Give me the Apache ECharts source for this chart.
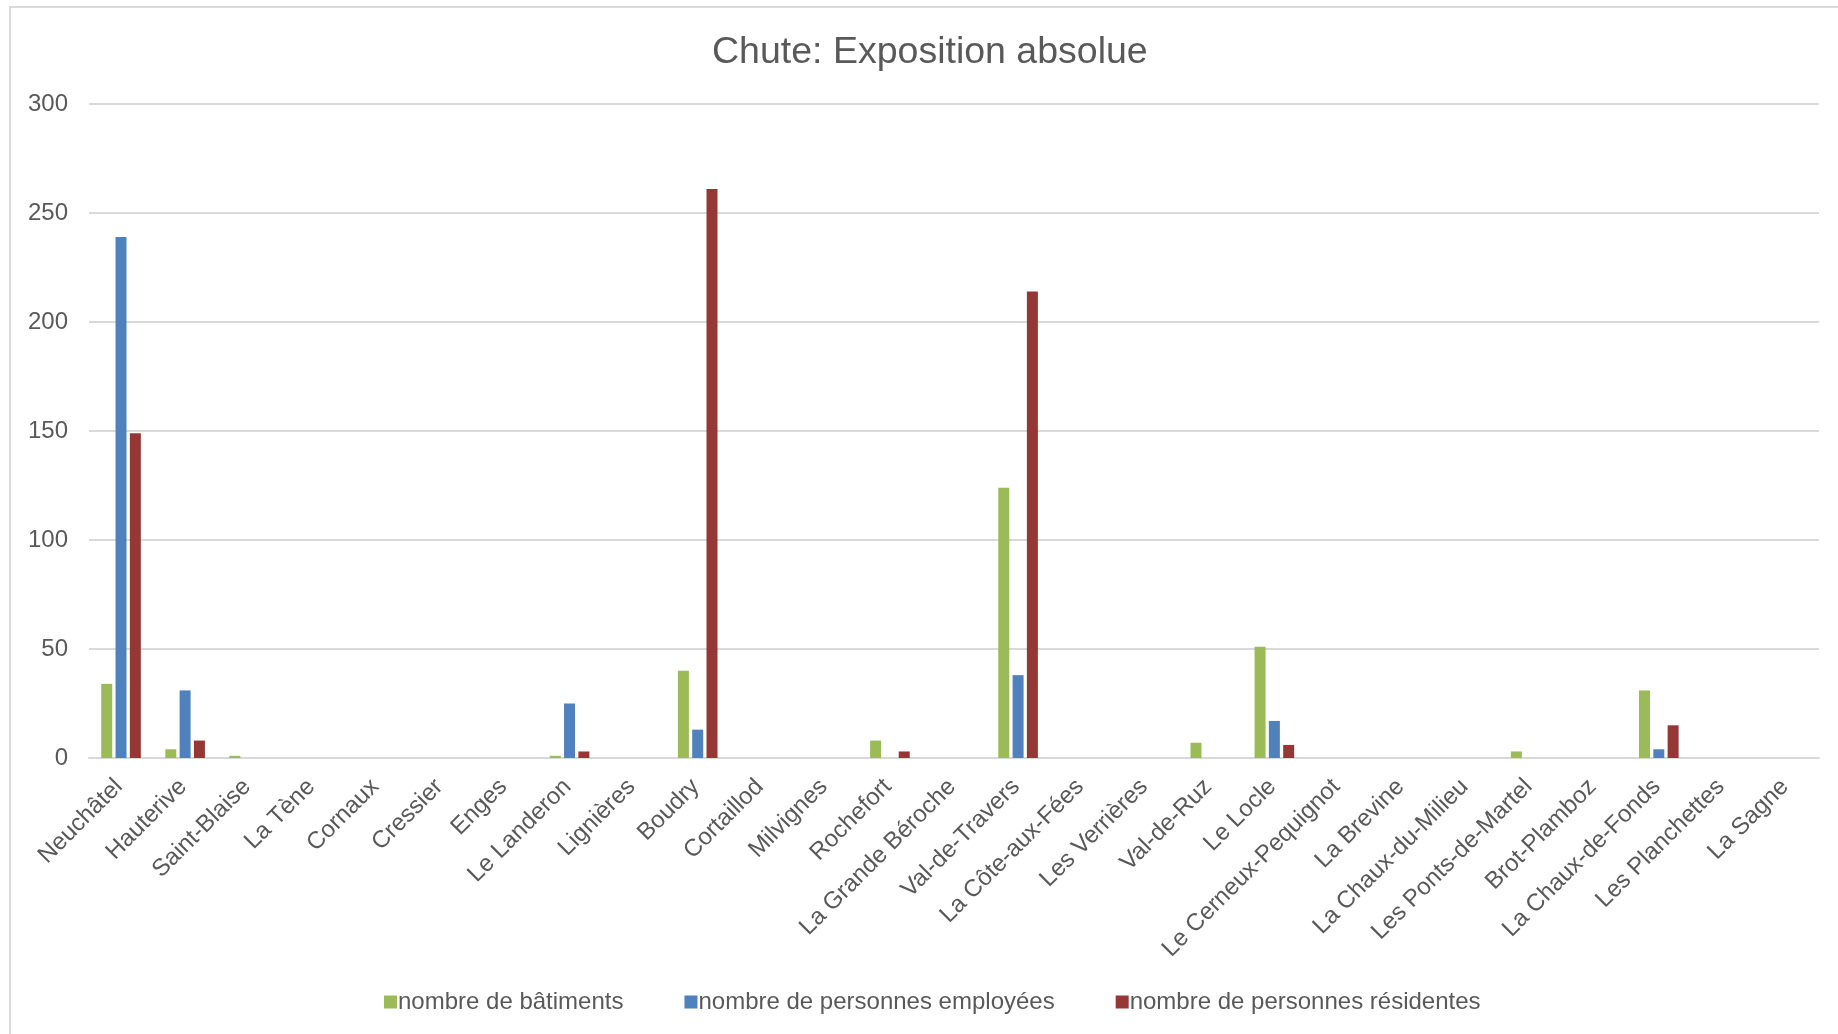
<!DOCTYPE html>
<html lang="fr">
<head>
    <meta charset="UTF-8">
    <title>Chute: Exposition absolue</title>
    <script src="https://cdn.jsdelivr.net/npm/echarts@6/dist/echarts.min.js"></script>
    <style>
        html, body { margin: 0; padding: 0; background: #fff; }
        #chart { width: 1838px; height: 1034px; }
    </style>
</head>
<body>
<div id="chart"></div>
<script type="text/javascript">
    var communes = ['Neuchâtel', 'Hauterive', 'Saint-Blaise', 'La Tène', 'Cornaux', 'Cressier', 'Enges',
        'Le Landeron', 'Lignières', 'Boudry', 'Cortaillod', 'Milvignes', 'Rochefort', 'La Grande Béroche',
        'Val-de-Travers', 'La Côte-aux-Fées', 'Les Verrières', 'Val-de-Ruz', 'Le Locle',
        'Le Cerneux-Pequignot', 'La Brevine', 'La Chaux-du-Milieu', 'Les Ponts-de-Martel', 'Brot-Plamboz',
        'La Chaux-de-Fonds', 'Les Planchettes', 'La Sagne'];
    var batiments = [34, 4, 1, 0, 0, 0, 0, 1, 0, 40, 0, 0, 8, 0, 124, 0, 0, 7, 51, 0, 0, 0, 3, 0, 31, 0, 0];
    var employes = [239, 31, 0, 0, 0, 0, 0, 25, 0, 13, 0, 0, 0, 0, 38, 0, 0, 0, 17, 0, 0, 0, 0, 0, 4, 0, 0];
    var residents = [149, 8, 0, 0, 0, 0, 0, 3, 0, 261, 0, 0, 3, 0, 214, 0, 0, 0, 6, 0, 0, 0, 0, 0, 15, 0, 0];
    var yTicks = [0, 50, 100, 150, 200, 250, 300];

    var font = '"Liberation Sans", Arial, sans-serif';
    var textColor = '#595959';

    function serie(name, data, color) {
        return {
            name: name,
            type: 'bar',
            data: data,
            barWidth: 11,
            barGap: '30%',
            itemStyle: { color: color }
        };
    }

    var option = {
        animation: false,
        graphic: [{
            type: 'rect',
            shape: { x: 10, y: 7, width: 1850, height: 1050 },
            style: { fill: 'none', stroke: '#D9D9D9', lineWidth: 2 },
            silent: true
        }],
        title: {
            text: 'Chute: Exposition absolue',
            left: 707,
            top: 29,
            textStyle: { color: textColor, fontSize: 37.5, fontWeight: 'normal', fontFamily: font }
        },
        legend: {
            bottom: 15,
            left: 379,
            itemWidth: 13,
            itemHeight: 13,
            itemGap: 61,
            icon: 'rect',
            textStyle: { color: textColor, fontSize: 24, fontFamily: font, padding: [0, 0, 0, -4] },
            data: ['nombre de bâtiments', 'nombre de personnes employées', 'nombre de personnes résidentes']
        },
        grid: { left: 89, right: 19, top: 104, bottom: 276, containLabel: false },
        xAxis: {
            type: 'category',
            data: communes,
            axisLine: { lineStyle: { color: '#D9D9D9', width: 2 } },
            axisTick: { show: false },
            axisLabel: {
                interval: 0,
                rotate: 45,
                margin: 23,
                padding: [0, 3, 0, 0],
                color: textColor,
                fontSize: 24,
                fontFamily: font
            }
        },
        yAxis: {
            type: 'value',
            min: yTicks[0],
            max: yTicks[yTicks.length - 1],
            interval: 50,
            axisLine: { show: false },
            axisTick: { show: false },
            splitLine: { lineStyle: { color: '#D9D9D9', width: 2 } },
            axisLabel: { color: textColor, fontSize: 24, fontFamily: font, margin: 21 }
        },
        series: [
            serie('nombre de bâtiments', batiments, '#9BBB59'),
            serie('nombre de personnes employées', employes, '#4F81BD'),
            serie('nombre de personnes résidentes', residents, '#953735')
        ]
    };

    var myChart = echarts.init(document.getElementById('chart'));
    myChart.setOption(option);
</script>
</body>
</html>
